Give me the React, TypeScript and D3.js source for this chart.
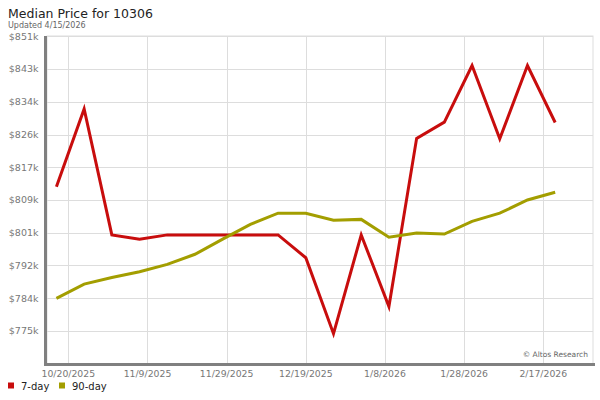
import React from "react";
import * as d3 from "d3";

const title = "Median Price for 10306";
const subtitle = "Updated 4/15/2026";
const watermark = "© Altos Research";

const dates = [
  "2025-10-17", "2025-10-24", "2025-10-31", "2025-11-07", "2025-11-14",
  "2025-11-21", "2025-11-28", "2025-12-05", "2025-12-12", "2025-12-19",
  "2025-12-26", "2026-01-02", "2026-01-09", "2026-01-16", "2026-01-23",
  "2026-01-30", "2026-02-06", "2026-02-13", "2026-02-20",
];
// values in $k
const sevenDay = [
  812.4, 832.5, 800.0, 798.9, 800.0, 800.0, 800.0, 800.0, 800.0, 794.1,
  774.5, 800.0, 781.5, 824.9, 829.1, 843.7, 824.8, 843.7, 829.0,
];
const ninetyDay = [
  783.6, 787.3, 789.0, 790.5, 792.4, 795.0, 798.9, 802.7, 805.6, 805.6,
  803.8, 804.0, 799.4, 800.5, 800.2, 803.5, 805.6, 809.0, 811.0,
];
const yTicks = [775.2, 783.65, 792.1, 800.55, 809.0, 817.45, 825.9, 834.35, 842.8, 851.25];
const xTicks = ["2025-10-20", "2025-11-09", "2025-11-29", "2025-12-19", "2026-01-08", "2026-01-28", "2026-02-17"];
const seriesNames = ["7-day", "90-day"];
const seriesColors = ["#c80d0d", "#a39e00"];

const parse = (s: string) => {
  const [y, m, d] = s.split("-").map(Number);
  return new Date(y, m - 1, d);
};
const fmtDate = (d: Date) => `${d.getMonth() + 1}/${d.getDate()}/${d.getFullYear()}`;

export default function App() {
  const left = 47, right = 593, top = 36, bottom = 364;
  const x = d3.scaleTime().domain([parse(xTicks[0]), parse(xTicks[xTicks.length - 1])]).range([68.3, 543.3]);
  const y = d3.scaleLinear().domain([766.75, 851.25]).range([363.75, 36.25]);
  const font = "DejaVu Sans, sans-serif";
  const series = [sevenDay, ninetyDay];
  const line = d3.line<number>().x((_, i) => x(parse(dates[i]))).y((v) => y(v));

  return (
    <svg width={600} height={400} style={{ position: "absolute", left: 0, top: 0, background: "#fff" }} fontFamily={font}>
      <rect x={0} y={0} width={600} height={400} fill="#fff" />
      <text x={8} y={18} fontSize={12.5} fill="#222">{title}</text>
      <text x={8} y={27.5} fontSize={8} fill="#666">{subtitle}</text>
      {/* frame */}
      <rect x={left} y={top} width={right - left} height={bottom - top} fill="none" stroke="#ddd" strokeWidth={1} />
      {yTicks.map((t, i) => (
        <g key={"y" + i}>
          <line x1={left} x2={right} y1={Math.round(y(t)) + 0.5} y2={Math.round(y(t)) + 0.5} stroke="#ddd" strokeWidth={1} />
          <text x={38.5} y={y(t)} dy="0.35em" textAnchor="end" fontSize={9.5} fill="#777">{`$${Math.round(t)}k`}</text>
        </g>
      ))}
      {xTicks.map((t, i) => {
        const px = Math.round(x(parse(t))) + 0.5;
        return (
          <g key={"x" + i}>
            <line x1={px} x2={px} y1={top} y2={bottom} stroke="#ddd" strokeWidth={1} />
            <text x={x(parse(t))} y={376.5} textAnchor="middle" fontSize={9.3} fill="#777">{fmtDate(parse(t))}</text>
          </g>
        );
      })}
      <text x={588} y={356.5} textAnchor="end" fontSize={7.5} fill="#666">{watermark}</text>
      {/* axes */}
      <line x1={45.5} x2={45.5} y1={top} y2={365.5} stroke="#808080" strokeWidth={3} />
      <line x1={44} x2={595} y1={364.5} y2={364.5} stroke="#808080" strokeWidth={3} />
      {series.map((s, i) => (
        <path key={"s" + i} d={line(s) || ""} fill="none" stroke={seriesColors[i]} strokeWidth={3} strokeLinejoin="miter" />
      ))}
      {/* legend */}
      {seriesNames.map((n, i) => (
        <g key={"l" + i} transform={`translate(${8 + i * 51},0)`}>
          <rect x={0} y={382.5} width={6} height={6} fill={seriesColors[i]} />
          <text x={13} y={389.5} fontSize={10} fill="#222">{n}</text>
        </g>
      ))}
    </svg>
  );
}
